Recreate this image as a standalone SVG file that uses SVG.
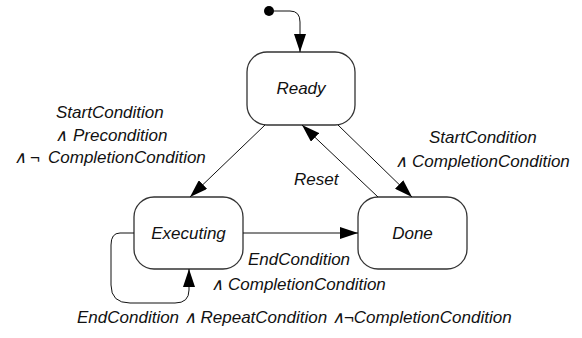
<svg xmlns="http://www.w3.org/2000/svg" width="582" height="338" viewBox="0 0 582 338">
<defs>
<marker id="ah" markerWidth="18" markerHeight="12" refX="18" refY="6" orient="auto" markerUnits="userSpaceOnUse">
<path d="M0,0 L18,6 L0,12 Z" fill="#000"/>
</marker>
<style>
.st{fill:#fff;stroke:#333;stroke-width:1.3}
.lb{font-family:"Liberation Sans",Arial,sans-serif;font-style:italic;font-size:17px;fill:#111}
.cn{fill:none;stroke:#111;stroke-width:1}
</style>
</defs>
<rect width="582" height="338" fill="#fff"/>
<g id="initial"><circle cx="269" cy="11" r="5" fill="#000"/></g>
<g id="ready"><rect class="st" x="247" y="52" width="108" height="73" rx="20"/><text class="lb" x="301" y="94" text-anchor="middle">Ready</text></g>
<g id="executing"><rect class="st" x="134" y="197" width="109" height="72" rx="20"/><text class="lb" x="188.5" y="239" text-anchor="middle">Executing</text></g>
<g id="done"><rect class="st" x="358" y="197" width="109" height="72" rx="20"/><text class="lb" x="412.5" y="239" text-anchor="middle">Done</text></g>
<g id="connectors">
<path class="cn" d="M269,11 L290,11 Q300,11 300,22 L300,52" marker-end="url(#ah)"/>
<path class="cn" d="M265,125 L190,197" marker-end="url(#ah)"/>
<path class="cn" d="M338,125 L412,197" marker-end="url(#ah)"/>
<path class="cn" d="M378,197 L302,125" marker-end="url(#ah)"/>
<path class="cn" d="M243,233 L358,233" marker-end="url(#ah)"/>
<path class="cn" d="M134,233 L120,233 Q111,233 111,245 L111,285 Q111,303 130,303 L175,303 Q189,303 189,290 L189,269" marker-end="url(#ah)"/>
</g>
<g id="labels">
<text class="lb" x="56" y="118">StartCondition</text>
<text class="lb" y="141"><tspan x="55">∧</tspan><tspan x="73">Precondition</tspan></text>
<text class="lb" y="163"><tspan x="14">∧</tspan><tspan x="30">¬</tspan><tspan x="48">CompletionCondition</tspan></text>
<text class="lb" x="429" y="143">StartCondition</text>
<text class="lb" y="167"><tspan x="395">∧</tspan><tspan x="412">CompletionCondition</tspan></text>
<text class="lb" x="294" y="185">Reset</text>
<text class="lb" x="248" y="265">EndCondition</text>
<text class="lb" y="290"><tspan x="211">∧</tspan><tspan x="228">CompletionCondition</tspan></text>
<text class="lb" x="77" y="323">EndCondition ∧ RepeatCondition ∧¬CompletionCondition</text>
</g>
</svg>
